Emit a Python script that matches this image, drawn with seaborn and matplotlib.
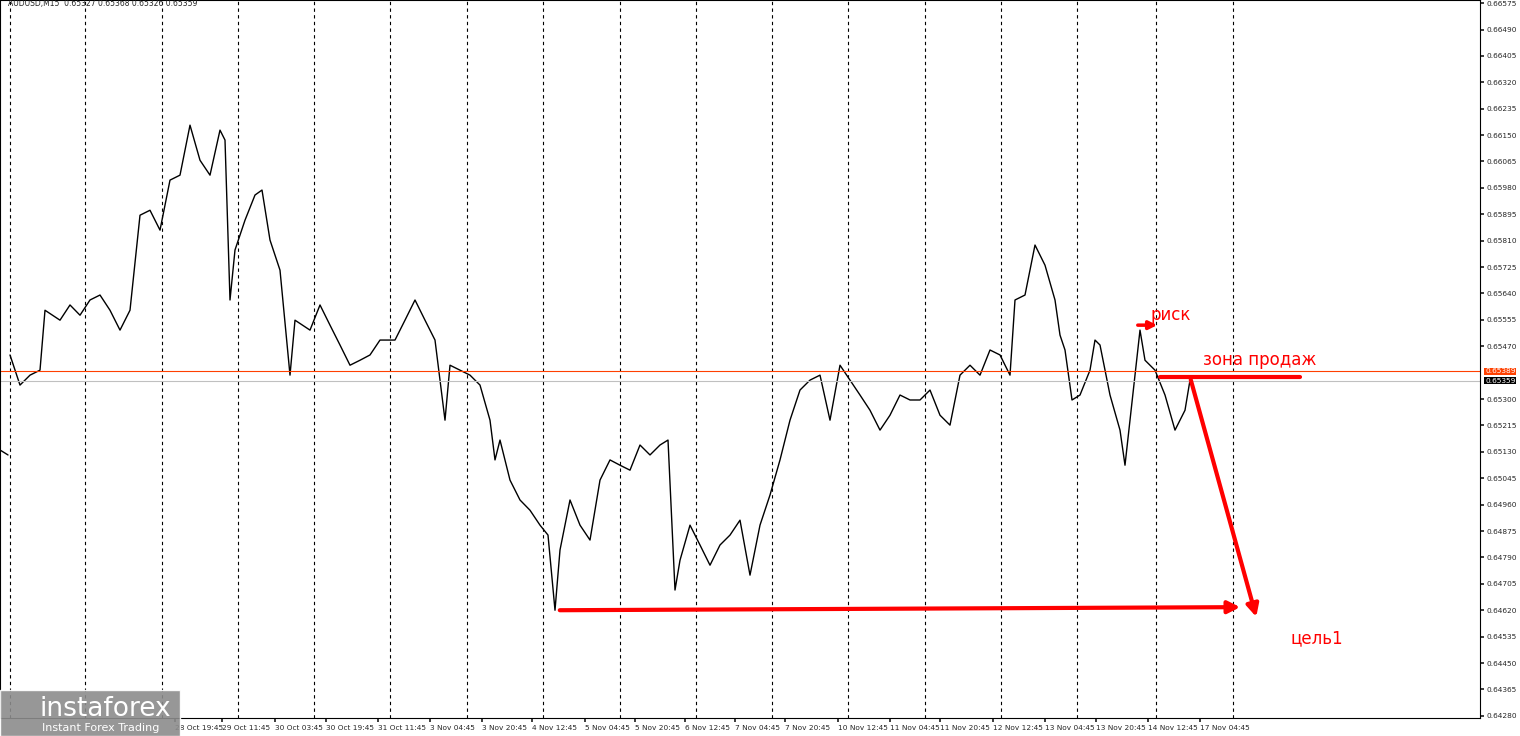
import matplotlib
matplotlib.use("Agg")
import matplotlib.pyplot as plt
import seaborn as sns
import pandas as pd
from matplotlib.patches import Rectangle

sns.set_theme(style="white")
plt.rcParams['font.family'] = ['DejaVu Sans']

bar_index = [0, 8, 10, 20, 30, 40, 45, 60, 70, 80, 90, 100, 110, 120, 130, 140, 150, 160, 170, 180, 190,
             200, 210, 220, 225, 230, 235, 245, 255, 262, 270, 280, 290, 295, 310, 320, 330, 340, 350, 360, 370,
             380, 395, 405, 415, 425, 435, 445, 450, 460, 470, 480, 490, 495, 500, 510, 520, 530, 540, 548, 555,
             560, 570, 580, 590, 600, 610, 620, 630, 640, 650, 660, 668, 675, 680, 690, 700, 710, 720, 730, 740,
             750, 760, 770, 780, 790, 800, 810, 820, 830, 840, 850, 860, 870, 880, 890, 900, 910, 920, 930, 940,
             950, 960, 970, 980, 990, 1000, 1010, 1015, 1025, 1035, 1045, 1055, 1060, 1065, 1072, 1080, 1090, 1095, 1100, 1110,
             1120, 1125, 1130, 1135, 1140, 1145, 1155, 1165, 1175, 1185, 1190]
close = [0.65136, 0.65120, 0.65442, 0.65345, 0.65377, 0.65393, 0.65586, 0.65554, 0.65603, 0.65570, 0.65619, 0.65635, 0.65586, 0.65522, 0.65586, 0.65892, 0.65908, 0.65844, 0.66005, 0.66021, 0.66182,
         0.66069, 0.66021, 0.66166, 0.66134, 0.65619, 0.65780, 0.65876, 0.65957, 0.65973, 0.65812, 0.65715, 0.65377, 0.65554, 0.65522, 0.65603, 0.65538, 0.65474, 0.65409, 0.65425, 0.65442,
         0.65490, 0.65490, 0.65554, 0.65619, 0.65554, 0.65490, 0.65232, 0.65409, 0.65393, 0.65377, 0.65345, 0.65232, 0.65104, 0.65168, 0.65039, 0.64975, 0.64942, 0.64894, 0.64862, 0.64620,
         0.64814, 0.64975, 0.64894, 0.64846, 0.65039, 0.65104, 0.65087, 0.65071, 0.65152, 0.65120, 0.65152, 0.65168, 0.64685, 0.64781, 0.64894, 0.64830, 0.64765, 0.64830, 0.64862, 0.64910,
         0.64733, 0.64894, 0.64991, 0.65104, 0.65232, 0.65329, 0.65361, 0.65377, 0.65232, 0.65409, 0.65361, 0.65313, 0.65264, 0.65200, 0.65248, 0.65313, 0.65297, 0.65297, 0.65329, 0.65248,
         0.65216, 0.65377, 0.65409, 0.65377, 0.65458, 0.65442, 0.65377, 0.65619, 0.65635, 0.65796, 0.65731, 0.65619, 0.65506, 0.65458, 0.65297, 0.65313, 0.65393, 0.65490, 0.65474, 0.65313,
         0.65200, 0.65087, 0.65232, 0.65377, 0.65522, 0.65425, 0.65393, 0.65313, 0.65200, 0.65264, 0.65361]
segment = [0, 0] + [1] * (len(close) - 2)

y_ticks = [0.66575, 0.66490, 0.66405, 0.66320, 0.66235, 0.66150, 0.66065, 0.65980, 0.65895, 0.65810,
           0.65725, 0.65640, 0.65555, 0.65470, 0.65300, 0.65215, 0.65130, 0.65045, 0.64960, 0.64875,
           0.64790, 0.64705, 0.64620, 0.64535, 0.64450, 0.64365, 0.64280]
x_tick_pos = [175, 222, 275, 326, 378, 430, 482, 532, 585, 635, 685, 735, 785, 838, 890, 940, 993, 1045, 1096, 1148, 1200]
x_tick_labels = ["28 Oct 19:45", "29 Oct 11:45", "30 Oct 03:45", "30 Oct 19:45", "31 Oct 11:45", "3 Nov 04:45",
                 "3 Nov 20:45", "4 Nov 12:45", "5 Nov 04:45", "5 Nov 20:45", "6 Nov 12:45", "7 Nov 04:45",
                 "7 Nov 20:45", "10 Nov 12:45", "11 Nov 04:45", "11 Nov 20:45", "12 Nov 12:45", "13 Nov 04:45",
                 "13 Nov 20:45", "14 Nov 12:45", "17 Nov 04:45"]
grid_pos = [10, 85, 162, 238, 314, 390, 467, 543, 620, 696, 772, 848, 925, 1001, 1077, 1156, 1233]
ask, bid = 0.65389, 0.65359

df = pd.DataFrame({"bar": bar_index, "close": close, "segment": segment})

fig = plt.figure(figsize=(15.2, 7.36), dpi=100)
ax = fig.add_axes([0.0, 18/736, 1480/1520, 718/736])
sns.lineplot(data=df, x="bar", y="close", units="segment", estimator=None, ax=ax,
             color="black", linewidth=1.0, sort=False)
ax.set_xlim(0, 1480)
ax.set_ylim(0.64273, 0.66585)
for g in grid_pos:
    ax.axvline(g, color="black", ls=(0, (3, 3)), lw=0.8)
ax.axhline(ask, color="#ff4000", lw=0.8)
ax.axhline(bid, color="#c0c0c0", lw=0.8)

ax.yaxis.tick_right()
ax.set_yticks(y_ticks)
ax.set_yticklabels([f"{v:.5f}" for v in y_ticks], fontsize=5.3)
ax.tick_params(axis="y", length=3, pad=2, direction="out", right=True)
ax.set_xticks(x_tick_pos)
ax.set_xticklabels(x_tick_labels, fontsize=5.3, ha="left")
ax.tick_params(axis="x", length=3, pad=2, bottom=True)
ax.set_xlabel(""); ax.set_ylabel("")
for s in ax.spines.values():
    s.set_color("black"); s.set_linewidth(0.8)

ax.text(1485, ask, f"{ask:.5f}", fontsize=5.3, color="white", va="center",
        bbox=dict(fc="#ff4000", ec="none", pad=0.5), clip_on=False)
ax.text(1485, bid, f"{bid:.5f}", fontsize=5.3, color="white", va="center",
        bbox=dict(fc="black", ec="none", pad=0.5), clip_on=False)

red = "#ff0000"
ax.annotate("", xy=(1243, 0.64630), xytext=(557, 0.64620),
            arrowprops=dict(arrowstyle="-|>", color=red, lw=3, mutation_scale=18))
ax.annotate("", xy=(1257, 0.64590), xytext=(1190, 0.65371),
            arrowprops=dict(arrowstyle="-|>", color=red, lw=3, mutation_scale=18))
ax.plot([1160, 1300], [0.65371, 0.65371], color=red, lw=3)
ax.annotate("", xy=(1160, 0.65538), xytext=(1135, 0.65538),
            arrowprops=dict(arrowstyle="-|>", color=red, lw=2.5, mutation_scale=12))
ax.text(1150, 0.65572, "риск", color=red, fontsize=12, va="center")
ax.text(1203, 0.65425, "зона продаж", color=red, fontsize=12, va="center")
ax.text(1290, 0.64530, "цель1", color=red, fontsize=12, va="center")
ax.text(8, 0.66575, "AUDUSD,M15  0.65327 0.65368 0.65326 0.65359", fontsize=5.5, va="center")

fig.patches.append(Rectangle((0, 0), 180/1520, 46/736, transform=fig.transFigure, fc="#8c8c8c", alpha=0.9, zorder=5))
fig.text(40/1520, 14/736, "instaforex", fontsize=19, color="white", va="bottom", zorder=6)
fig.text(42/1520, 3/736, "Instant Forex Trading", fontsize=8, color="white", va="bottom", zorder=6)

fig.savefig("out.png", dpi=100)
